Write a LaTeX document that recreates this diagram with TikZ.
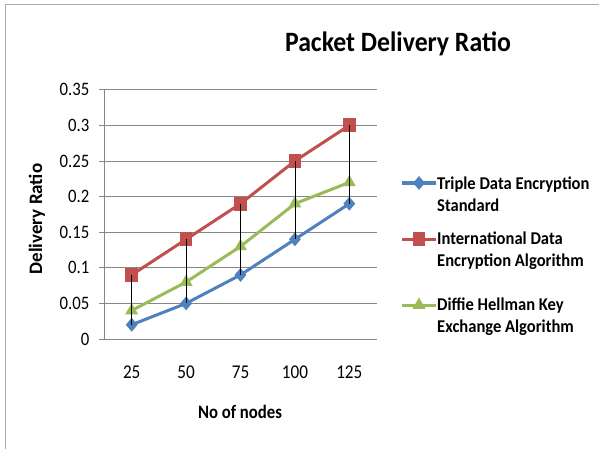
\documentclass[tikz,border=0pt]{standalone}
\usepackage{fontspec}
\setmainfont{Carlito}
\newfontfamily\chartfont[FakeStretch=0.88]{Carlito}
\newfontfamily\widefont[FakeStretch=0.92]{Carlito}
\usepackage{tikz}
\usetikzlibrary{shapes.geometric}
\usetikzlibrary{positioning}
\definecolor{tdes}{RGB}{79,129,189}
\definecolor{idea}{RGB}{192,80,77}
\definecolor{dhke}{RGB}{155,187,89}
\definecolor{gridgray}{RGB}{134,134,134}
\tikzset{
  tdesmark/.style={diamond, fill=tdes, inner sep=0pt, minimum width=12pt, minimum height=14pt},
  ideamark/.style={rectangle, fill=idea, inner sep=0pt, minimum width=12.5pt, minimum height=14pt},
  dhkemark/.style={regular polygon, regular polygon sides=3, fill=dhke, inner sep=0pt, minimum size=15pt},
  serie/.style={line width=3pt, line join=round},
  gridline/.style={gridgray, line width=0.8pt},
  hilo/.style={black, line width=0.7pt},
  ylab/.style={anchor=east, inner sep=0pt, xshift=-15pt, font=\chartfont\fontsize{19}{19}\selectfont},
  xlab/.style={inner sep=0pt, yshift=-33pt, font=\chartfont\fontsize{19.5}{19.5}\selectfont},
  legtext/.style={anchor=north west, inner sep=0pt, align=left, font=\widefont\bfseries\fontsize{18}{22}\selectfont},
}

\begin{document}
\begin{tikzpicture}[x=1pt,y=1pt]
\useasboundingbox (0,0) rectangle (599,-449);
\fill[white] (0,0) rectangle (599,-449);
% frame
\draw[gridgray!70, line width=1pt] (5,-449) -- (5,-5) -- (599,-5);

\node (title) at (398,-44) {\widefont\bfseries\fontsize{28}{28}\selectfont Packet Delivery Ratio};
\node[rotate=90] (ytitle) at (37,-219) {\fontsize{19}{19}\selectfont\bfseries Delivery Ratio};
\node (xtitle) at (240,-412) {\chartfont\fontsize{19}{19}\selectfont\bfseries No of nodes};

\begin{scope}[shift={(77.3,-339)}, x=54.4pt, y=712pt]
% grid and axes
\draw[gridline] (0.5,0.05) -- (5.5,0.05)
                (0.5,0.10) -- (5.5,0.10)
                (0.5,0.15) -- (5.5,0.15)
                (0.5,0.20) -- (5.5,0.20)
                (0.5,0.25) -- (5.5,0.25)
                (0.5,0.30) -- (5.5,0.30)
                (0.5,0.35) -- (5.5,0.35);
\draw[gridline] (0.5,0) -- (5.5,0)
                (0.5,0) -- (0.5,0.35);
\draw[gridline] (0.5,0) -- ++(-6pt,0)  (0.5,0.05) -- ++(-6pt,0)
                (0.5,0.10) -- ++(-6pt,0)  (0.5,0.15) -- ++(-6pt,0)
                (0.5,0.20) -- ++(-6pt,0)  (0.5,0.25) -- ++(-6pt,0)
                (0.5,0.30) -- ++(-6pt,0)  (0.5,0.35) -- ++(-6pt,0);

\node[ylab] (y000) at (0.5,0) {0};
\node[ylab] (y005) at (0.5,0.05) {0.05};
\node[ylab] (y010) at (0.5,0.10) {0.1};
\node[ylab] (y015) at (0.5,0.15) {0.15};
\node[ylab] (y020) at (0.5,0.20) {0.2};
\node[ylab] (y025) at (0.5,0.25) {0.25};
\node[ylab] (y030) at (0.5,0.30) {0.3};
\node[ylab] (y035) at (0.5,0.35) {0.35};

\node[xlab] (x1) at (1,0) {25};
\node[xlab] (x2) at (2,0) {50};
\node[xlab] (x3) at (3,0) {75};
\node[xlab] (x4) at (4,0) {100};
\node[xlab] (x5) at (5,0) {125};

% data points
\coordinate (t1) at (1,0.02);
\coordinate (t2) at (2,0.05);
\coordinate (t3) at (3,0.09);
\coordinate (t4) at (4,0.14);
\coordinate (t5) at (5,0.19);
\coordinate (i1) at (1,0.09);
\coordinate (i2) at (2,0.14);
\coordinate (i3) at (3,0.19);
\coordinate (i4) at (4,0.25);
\coordinate (i5) at (5,0.30);
\coordinate (d1) at (1,0.04);
\coordinate (d2) at (2,0.08);
\coordinate (d3) at (3,0.13);
\coordinate (d4) at (4,0.19);
\coordinate (d5) at (5,0.22);

\draw[serie, tdes] (t1) -- (t2) -- (t3) -- (t4) -- (t5);
\node[tdesmark] (t1m) at (t1) {};
\node[tdesmark] (t2m) at (t2) {};
\node[tdesmark] (t3m) at (t3) {};
\node[tdesmark] (t4m) at (t4) {};
\node[tdesmark] (t5m) at (t5) {};

\draw[serie, idea] (i1) -- (i2) -- (i3) -- (i4) -- (i5);
\node[ideamark] (i1m) at (i1) {};
\node[ideamark] (i2m) at (i2) {};
\node[ideamark] (i3m) at (i3) {};
\node[ideamark] (i4m) at (i4) {};
\node[ideamark] (i5m) at (i5) {};

\draw[serie, dhke] (d1) -- (d2) -- (d3) -- (d4) -- (d5);
\node[dhkemark] (d1m) at (d1) {};
\node[dhkemark] (d2m) at (d2) {};
\node[dhkemark] (d3m) at (d3) {};
\node[dhkemark] (d4m) at (d4) {};
\node[dhkemark] (d5m) at (d5) {};

% high-low lines
\draw[hilo] (i1) -- (t1)  (i2) -- (t2)  (i3) -- (t3)  (i4) -- (t4)  (i5) -- (t5);
\end{scope}

% legend
\coordinate (la1) at (402,-183);
\coordinate (lb1) at (436,-183);
\coordinate (la2) at (402,-239);
\coordinate (lb2) at (436,-239);
\coordinate (la3) at (402,-305);
\coordinate (lb3) at (436,-305);
\draw[serie, tdes] (la1) -- (lb1);
\node[tdesmark] (lm1) at (419,-183) {};
\draw[serie, idea] (la2) -- (lb2);
\node[ideamark] (lm2) at (419,-239) {};
\draw[serie, dhke] (la3) -- (lb3);
\node[dhkemark] (lm3) at (419,-305) {};

\node[legtext] (leg1) at (437,-176.5) {Triple Data Encryption\\Standard};
\node[legtext] (leg2) at (437,-231.5) {International Data\\Encryption Algorithm};
\node[legtext] (leg3) at (437,-297.5) {Diffie Hellman Key\\Exchange Algorithm};
\end{tikzpicture}
\end{document}
